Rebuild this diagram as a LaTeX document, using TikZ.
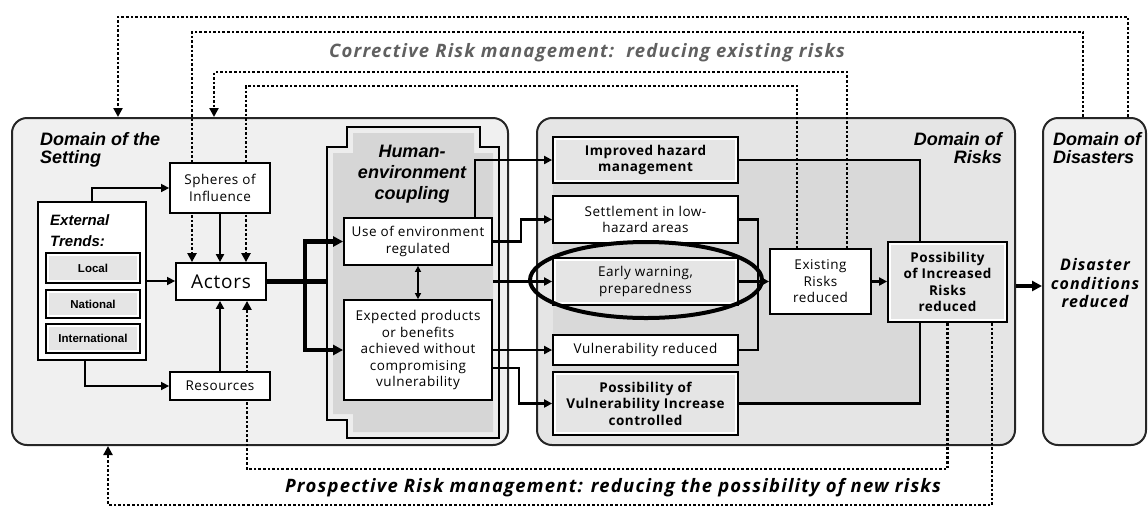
\documentclass[tikz,border=0pt]{standalone}
\usepackage{fontspec}
\setmainfont{Open Sans}
\newfontfamily\headfont{Liberation Sans}
\newfontfamily\boxfont[LetterSpace=4]{Open Sans}
\newfontfamily\wideboxfont[LetterSpace=6.5]{Open Sans}
\usetikzlibrary{arrows.meta}
\pgfdeclarelayer{domain}
\pgfdeclarelayer{links}
\pgfsetlayers{domain,links,main}

\tikzset{
  domainbox/.style={draw=black!85, line width=2pt, rounded corners=15pt, fill=gray!12},
  plainbox/.style={draw, line width=1.8pt, fill=white, align=center, inner sep=1pt,
    font=\boxfont\fontsize{13.5}{16.5}\selectfont},
  shadebox/.style={plainbox, path picture={\fill[gray!20]
    ([shift={(3pt,3pt)}]path picture bounding box.south west) rectangle
    ([shift={(-3pt,-3pt)}]path picture bounding box.north east);}},
  boldtext/.style={font=\boxfont\bfseries\fontsize{13.5}{16.5}\selectfont},
  trendbox/.style={shadebox, font=\headfont\bfseries\fontsize{11.5}{13}\selectfont, minimum width=94pt},
  headline/.style={font=\headfont\bfseries\itshape\fontsize{18}{18.5}\selectfont, inner sep=0pt},
  tip/.style={-{Triangle[length=8pt,width=8pt]}},
  thinlink/.style={tip, line width=1.6pt},
  link/.style={tip, line width=2.8pt},
  wire/.style={line width=2.8pt},
  bus/.style={line width=4.4pt},
  bustip/.style={bus, -{Triangle[length=10pt,width=10pt]}},
  dotlink/.style={line width=2.4pt, dash pattern=on 2.6pt off 2pt, -{Triangle[length=9pt,width=9pt]}}
}

\begin{document}
\begin{tikzpicture}[x=1pt,y=-1pt]
\useasboundingbox (0,0) rectangle (1148,507);

% domains
\begin{pgfonlayer}{domain}
\node[domainbox, minimum width=496pt, minimum height=327pt] (setting) at (260,281.5) {};
\node[domainbox, fill=gray!20, minimum width=478pt, minimum height=327pt] (risks) at (776,281.5) {};
\node[domainbox, minimum width=103pt, minimum height=327pt] (disasters) at (1094.5,281.5) {};
\fill[gray!30] (553,160) rectangle (920,404);
% coupling frame
\draw[line width=1.8pt, fill=gray!14] (347,127) -- (480,127) -- (480,147) -- (499,147) -- (499,438)
  -- (347,438) -- (347,420) -- (327,420) -- (327,147) -- (347,147) -- cycle;
\fill[gray!32] (353,133) -- (474,133) -- (474,153) -- (493,153) -- (493,432)
  -- (353,432) -- (353,414) -- (333,414) -- (333,153) -- (353,153) -- cycle;
\end{pgfonlayer}

\node[headline, anchor=north west, align=left] at (40,132) {Domain of the\\Setting};
\node[headline, anchor=north east, align=right] at (1002,132) {Domain of\\Risks};
\node[headline, anchor=north west, align=left] at (1053,132) {Domain of\\Disasters};
\node[headline, anchor=north, align=center, font=\headfont\bfseries\itshape\fontsize{18}{21}\selectfont] at (412,145) {Human-\\environment\\coupling};
\node[align=center, font=\wideboxfont\bfseries\itshape\fontsize{16}{18.5}\selectfont] at (1095,283) {Disaster\\conditions\\reduced};

% setting
\node[plainbox, minimum width=100pt, minimum height=50pt] (spheres) at (220,188) {Spheres of\\Influence};
\node[plainbox, minimum width=90pt, minimum height=37pt, font=\boxfont\fontsize{19}{21}\selectfont] (actors) at (221,281.5) {Actors};
\node[plainbox, minimum width=108pt, minimum height=158pt] (trends) at (92,281) {};
\node[headline, anchor=north west, align=left, font=\headfont\bfseries\itshape\fontsize{15}{21}\selectfont] at (50,214) {External\\Trends:};
\node[trendbox, minimum height=30pt] (local) at (93,268) {Local};
\node[trendbox, minimum height=28pt] (national) at (93,304) {National};
\node[trendbox, minimum height=29pt] (intl) at (93,338.5) {International};
\node[plainbox, minimum width=100pt, minimum height=28pt] (resources) at (220,386) {Resources};

% coupling
\node[plainbox, minimum width=148pt, minimum height=47pt] (use) at (418,241.5) {Use of environment\\regulated};
\node[plainbox, minimum width=148pt, minimum height=100pt] (expected) at (418,350) {Expected products\\or benefits\\achieved without\\compromising\\vulnerability};

% risks
\node[shadebox, boldtext, minimum width=185pt, minimum height=46pt] (improved) at (645.5,160) {Improved hazard\\management};
\node[plainbox, minimum width=185pt, minimum height=47pt] (settle) at (645.5,219.5) {Settlement in low-\\hazard areas};
\node[shadebox, minimum width=185pt, minimum height=47pt] (early) at (645.5,281.5) {Early warning,\\preparedness};
\node[plainbox, minimum width=185pt, minimum height=30pt] (vulnred) at (645.5,350) {Vulnerability reduced};
\node[shadebox, boldtext, minimum width=185pt, minimum height=63pt] (possvuln) at (645.5,403.5) {Possibility of\\Vulnerability Increase\\controlled};
\node[plainbox, minimum width=101pt, minimum height=65pt] (existing) at (820.5,281.5) {Existing\\Risks\\reduced};
\node[shadebox, boldtext, minimum width=119pt, minimum height=80pt] (possrisk) at (947.5,282) {Possibility\\of Increased\\Risks\\reduced};

% solid connectors
\draw[thinlink] (trends.north) |- (spheres.west);
\draw[thinlink] ([xshift=-7pt]trends.south) |- (resources.west);
\draw[thinlink] (trends.east) -- (trends.east -| actors.west);
\draw[link] (spheres.south) -- (spheres.south |- actors.north);
\draw[link] (resources.north) -- (resources.north |- actors.south);
\coordinate (hub) at (305,281.5);
\draw[bus] (actors.east) -- (hub) -- ++(22,0);
\draw[bustip] (hub) |- (use.west);
\draw[bustip] (hub) |- (expected.west);
\draw[{Triangle[length=6pt,width=6pt]}-{Triangle[length=6pt,width=6pt]}, line width=1.6pt] (use.south) -- (expected.north);
\draw[link] ([xshift=57pt]use.north) |- (improved.west);
\draw[link] (use.east) -- ++(28,0) |- (settle.west);
\draw[link] (use.east |- early.west) -- (early.west);
\draw[link] (expected.east) -- (vulnred.west);
\draw[link] ([yshift=-18pt]expected.east) -- ++(26,0) |- (possvuln.west);
\draw[wire] (settle.east) -- ++(19,0) |- (vulnred.east);
\draw[link] (early.east) -- (existing.west);
\draw[link] (existing.east) -- (existing.east -| possrisk.west);
\draw[wire] (improved.east) -| ([xshift=-27.5pt]possrisk.north);
\draw[wire] (possvuln.east) -| ([xshift=-27.5pt]possrisk.south);
\draw[bustip] ([yshift=-4pt]risks.east |- possrisk.east) -- ([yshift=-4pt]disasters.west |- possrisk.east);

\draw[line width=4pt] (646,280) ellipse [x radius=116pt, y radius=38pt];

% risk management loops
\coordinate (top1) at (118,17);
\coordinate (top2) at (192,32);
\coordinate (top3) at (214,72);
\coordinate (top4) at (246,86);
\coordinate (bot1) at (247,469);
\coordinate (bot2) at (108,505);
\begin{pgfonlayer}{links}
\draw[dotlink] ([xshift=33.5pt]disasters.north) |- (top1) -- (setting.north -| top1);
\draw[dotlink] ([xshift=-11.5pt]disasters.north) |- (top2) -- (actors.north -| top2);
\draw[dotlink] ([xshift=26.5pt]existing.north) |- (top3) -- (setting.north -| top3);
\draw[dotlink] ([xshift=-23.5pt]existing.north) |- (top4) -- (actors.north -| top4);
\draw[dotlink] (possrisk.south) |- (bot1) -- (actors.south -| bot1);
\draw[dotlink] ([xshift=44.5pt]possrisk.south) |- (bot2) -- (setting.south -| bot2);
\end{pgfonlayer}

\node[text=gray!75!black, font=\wideboxfont\bfseries\itshape\fontsize{18.5}{20}\selectfont] (corrective) at (587,53) {Corrective Risk management:\ \ reducing existing risks};
\node[font=\wideboxfont\bfseries\itshape\fontsize{18.5}{20}\selectfont] (prospective) at (613,488) {Prospective Risk management: reducing the possibility of new risks};
\end{tikzpicture}
\end{document}
